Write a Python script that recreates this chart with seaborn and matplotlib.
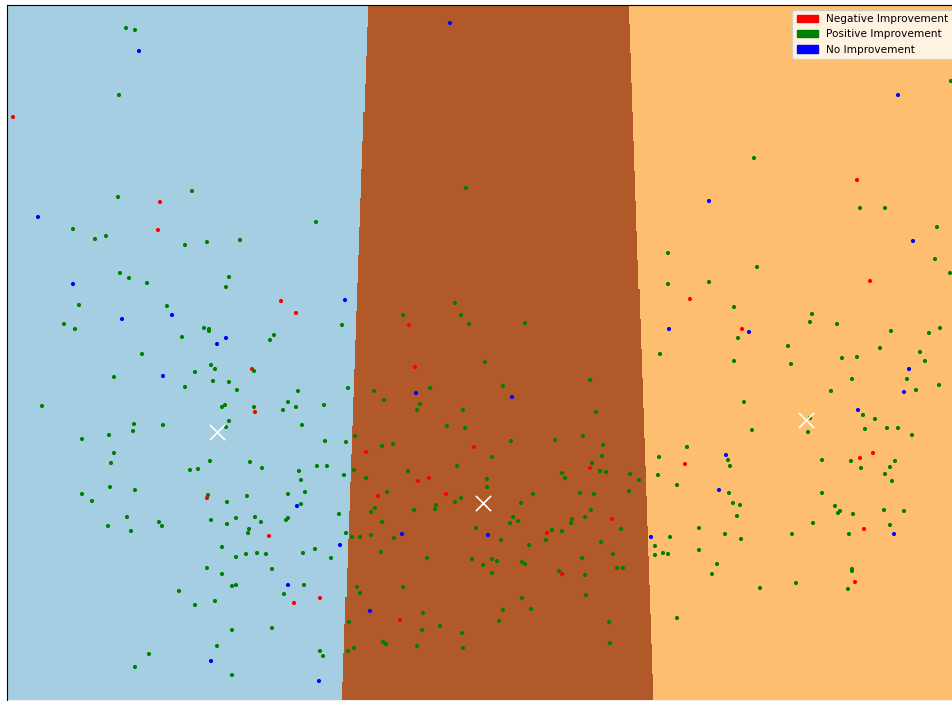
import numpy as np
import pandas as pd
import matplotlib
matplotlib.use("Agg")
import matplotlib.pyplot as plt
import matplotlib.patches as mpatches
import seaborn as sns

# students, one point each, grouped by change in score
neg_x = [0.13, 1.60, 1.58, 8.57, 2.81, 2.96, 4.09, 2.52, 4.15, 2.55, 3.66, 4.74, 5.90, 6.90, 6.85,
         8.70, 7.42, 8.73, 8.60, 2.07, 4.18, 4.29, 4.46, 3.78, 2.69, 3.20, 2.94, 4.00, 6.12, 5.47,
         5.62, 8.64, 8.55]
neg_y = [5.83, 4.98, 4.70, 5.20, 3.99, 3.87, 3.75, 3.31, 3.33, 2.88, 2.48, 2.53, 2.32, 4.01, 2.36,
         4.19, 3.71, 2.47, 2.42, 2.02, 2.19, 2.22, 2.06, 2.04, 1.64, 1.02, 0.97, 0.80, 1.81, 1.67,
         1.26, 1.71, 1.18]

none_x = [1.39, 0.38, 4.50, 7.09, 8.98, 0.73, 1.72, 1.22, 2.26, 2.17, 1.63, 3.45, 4.16, 6.69, 5.12,
          9.13, 7.49, 9.09, 9.04, 8.58, 7.26, 2.11, 2.97, 4.02, 3.40, 2.88, 3.70, 3.19, 4.88, 6.51,
          7.19, 8.94]
none_y = [6.49, 4.83, 6.77, 4.99, 6.05, 4.16, 3.85, 3.81, 3.62, 3.56, 3.24, 4.00, 3.07, 3.71, 3.03,
          4.59, 3.68, 3.31, 3.08, 2.90, 2.45, 0.39, 1.94, 1.66, 1.55, 1.15, 0.89, 0.19, 1.65, 1.63,
          2.10, 1.66]

pos_x = [1.26, 1.35, 1.19, 1.92, 1.18, 0.73, 4.66, 3.16, 9.51, 7.54, 8.60, 8.85, 9.37,
         0.95, 1.06, 1.85, 2.07, 1.20, 1.29, 1.47, 2.29, 2.26, 0.79, 1.67, 0.64, 0.75, 2.04, 2.09,
         2.09, 1.82, 1.42, 2.11, 2.15, 1.95, 1.14, 2.13, 2.29, 1.85, 2.37, 0.42, 2.25, 2.22, 2.29,
         2.26, 1.34, 1.63, 1.33, 1.09, 0.82, 1.14, 1.11, 2.10,
         2.40, 3.42, 2.74, 2.70, 4.55, 4.61, 4.69, 4.03, 2.54, 2.98, 3.48, 3.74, 4.30, 3.84, 2.88,
         3.24, 4.20, 4.17, 4.63, 2.54, 2.83, 2.96, 3.02, 4.47, 4.65, 3.55, 3.25, 3.46, 3.82, 3.93,
         2.50, 4.57, 3.17, 3.27,
         6.68, 6.68, 7.09, 6.60, 5.25, 4.85, 5.03, 5.90, 5.96, 5.11, 5.55, 5.83, 6.03, 6.02, 4.92,
         5.92, 6.87, 6.59,
         9.35, 9.50, 7.57, 7.34, 8.12, 8.10, 8.37, 7.38, 8.91, 9.29, 9.40, 7.88, 8.80, 9.20, 7.34,
         7.91, 8.42, 8.57, 9.25, 9.07, 8.52, 9.16, 9.39, 8.31, 7.44, 8.63, 8.75, 8.10, 8.65, 8.87,
         8.98, 9.12, 7.52, 8.08, 7.28, 7.30, 8.22, 8.51, 8.95, 8.90, 8.61,
         1.90, 1.98, 0.82, 1.10, 1.35, 0.92, 2.08, 2.27, 1.27, 1.08, 1.31, 1.59, 1.62, 2.11, 2.36,
         2.27, 2.22, 2.36, 2.07, 2.22, 2.32, 2.36, 1.79, 1.95, 2.15, 2.32, 2.17, 1.49, 1.35, 2.32,
         2.62, 2.99, 3.54, 3.44, 3.01, 4.08, 3.66, 3.87, 2.47, 2.88, 3.05, 3.01, 4.61, 4.55, 4.36,
         4.35, 4.14, 3.75, 3.71, 3.82, 3.39, 2.55, 2.61, 2.86, 2.88, 2.49, 2.48, 3.46, 3.52, 3.60,
         3.71, 3.94, 3.15, 2.46, 2.57, 2.66, 3.03, 3.31, 3.81, 4.27, 4.72, 2.72, 3.04, 2.84, 3.57,
         3.60, 4.03, 4.23, 3.49, 2.72, 4.22, 4.40, 4.62, 3.83, 3.86, 4.17, 4.63, 3.54, 3.48, 3.20,
         3.23,
         5.62, 5.65, 6.00, 6.06, 6.30, 6.39, 6.58, 6.77, 4.87, 4.87, 5.33, 5.80, 5.94, 6.29, 5.21,
         5.91, 5.13, 5.10, 5.18, 5.72, 5.71, 5.85, 4.76, 5.52, 5.62, 6.21, 5.01, 5.46, 5.29, 6.01,
         6.70, 6.99, 6.55, 6.55, 6.63, 6.68, 6.99, 6.13, 4.92, 4.97, 4.83, 5.22, 5.25, 5.82, 6.17,
         6.23, 4.92, 5.59, 5.85, 7.12, 5.86, 5.22, 5.03, 5.31, 4.99, 6.09, 6.77, 6.10,
         8.85, 8.92, 7.29, 8.22, 7.33, 7.40, 7.37, 8.35, 8.38, 8.40, 8.53, 8.84, 9.04, 8.13, 8.90,
         7.25, 7.41, 7.92, 8.49, 7.17, 8.52, 8.52, 8.48, 7.96, 7.60]
pos_y = [6.72, 6.70, 6.05, 5.09, 5.03, 4.71, 5.12, 4.78, 6.19, 5.42, 4.92, 4.92, 4.73,
         4.61, 4.64, 4.55, 4.58, 4.27, 4.22, 4.17, 4.23, 4.13, 3.95, 3.94, 3.76, 3.71, 3.72, 3.71,
         3.69, 3.63, 3.46, 3.35, 3.31, 3.28, 3.23, 3.19, 3.18, 3.13, 3.10, 2.94, 2.95, 2.93, 2.79,
         2.73, 2.76, 2.75, 2.69, 2.65, 2.61, 2.47, 2.37, 2.39,
         4.60, 3.75, 3.65, 3.60, 3.97, 3.85, 3.76, 3.85, 3.29, 3.09, 3.12, 3.09, 3.12, 3.00, 2.98,
         2.95, 2.96, 2.90, 2.90, 2.93, 2.90, 2.93, 2.75, 2.74, 2.72, 2.64, 2.59, 2.58, 2.54, 2.56,
         2.38, 2.34, 2.34, 2.34,
         4.47, 4.16, 4.18, 3.46, 3.77, 3.38, 3.14, 3.20, 2.88, 2.59, 2.60, 2.64, 2.55, 2.44, 2.43,
         2.37, 2.53, 2.43,
         4.41, 4.27, 4.33, 3.93, 3.86, 3.78, 3.76, 3.62, 3.69, 3.67, 3.72, 3.54, 3.52, 3.48, 3.39,
         3.36, 3.42, 3.43, 3.39, 3.21, 3.21, 3.10, 3.15, 3.09, 2.98, 2.85, 2.81, 2.82, 2.71, 2.72,
         2.72, 2.65, 2.70, 2.68, 2.40, 2.34, 2.40, 2.39, 2.39, 2.33, 2.32,
         2.30, 2.31, 2.06, 2.13, 2.10, 1.99, 2.05, 1.98, 1.83, 1.74, 1.69, 1.78, 1.74, 1.80, 1.82,
         1.76, 1.53, 1.43, 1.32, 1.26, 1.14, 1.15, 1.09, 0.95, 0.99, 0.70, 0.54, 0.46, 0.33, 0.25,
         2.32, 2.29, 2.30, 2.25, 2.20, 2.29, 2.22, 2.08, 2.04, 2.06, 2.08, 1.96, 2.02, 1.98, 1.95,
         1.91, 1.90, 1.92, 1.88, 1.78, 1.86, 1.83, 1.78, 1.80, 1.82, 1.71, 1.67, 1.67, 1.63, 1.63,
         1.65, 1.62, 1.51, 1.46, 1.47, 1.46, 1.47, 1.42, 1.48, 1.42, 1.41, 1.31, 1.15, 1.06, 1.13,
         1.07, 1.13, 0.87, 0.78, 0.72, 0.70, 0.74, 0.67, 0.58, 0.56, 0.54, 0.52, 0.52, 0.49, 0.49,
         0.44,
         2.27, 2.22, 2.29, 2.28, 2.26, 2.20, 2.25, 2.15, 2.21, 2.13, 2.06, 2.07, 2.06, 2.09, 1.97,
         1.90, 1.83, 1.77, 1.79, 1.81, 1.77, 1.83, 1.72, 1.70, 1.69, 1.71, 1.60, 1.60, 1.55, 1.58,
         1.63, 1.72, 1.54, 1.45, 1.47, 1.46, 1.50, 1.46, 1.41, 1.39, 1.35, 1.38, 1.36, 1.42, 1.32,
         1.32, 1.27, 1.29, 1.25, 1.26, 1.05, 1.02, 0.90, 0.91, 0.79, 0.78, 0.82, 0.57,
         2.26, 2.19, 2.07, 2.07, 1.97, 1.95, 1.84, 1.94, 1.87, 1.89, 1.86, 1.90, 1.89, 1.77, 1.75,
         1.66, 1.61, 1.66, 1.66, 1.36, 1.31, 1.29, 1.11, 1.17, 1.12]

# cluster centres, in label order 0, 1, 2
centre_x = [2.17, 8.06, 4.83]
centre_y = [2.68, 2.80, 1.97]
y_weight = 0.373  # feature scaling used by the clustering

improvement_labels = ["Negative Improvement", "Positive Improvement", "No Improvement"]
improvement_colors = ["red", "green", "blue"]

df = pd.DataFrame({
    "x": neg_x + pos_x + none_x,
    "y": neg_y + pos_y + none_y,
    "improvement": (["Negative Improvement"] * len(neg_x)
                    + ["Positive Improvement"] * len(pos_x)
                    + ["No Improvement"] * len(none_x)),
})

x_min, x_max = 0.065, 9.58
y_min, y_max = -0.005, 6.955

# predict cluster for every mesh point
xx, yy = np.meshgrid(np.linspace(x_min, x_max, 900), np.linspace(y_min, y_max, 700))
cx = np.array(centre_x)
cy = np.array(centre_y)
d = (xx[..., None] - cx) ** 2 + ((yy[..., None] - cy) * y_weight) ** 2
Z = d.argmin(axis=-1)

fig = plt.figure(figsize=(9.52, 7.01), dpi=100)
ax = fig.add_axes([6.5 / 952, 0.5 / 701, (958 - 6.5) / 952, (700.5 - 4.5) / 701])

ax.imshow(Z, interpolation="nearest", extent=(x_min, x_max, y_min, y_max),
          cmap=plt.cm.Paired, aspect="auto", origin="lower", vmin=0, vmax=2)

sns.scatterplot(data=df, x="x", y="y", hue="improvement",
                palette=dict(zip(improvement_labels, improvement_colors)),
                s=9, linewidth=0, legend=False, ax=ax)

ax.scatter(centre_x, centre_y, marker="x", s=120, linewidths=1.2, color="w", zorder=10)

ax.set_xlim(x_min, x_max)
ax.set_ylim(y_min, y_max)
ax.set_xticks([])
ax.set_yticks([])
ax.set_xlabel("")
ax.set_ylabel("")

handles = [mpatches.Patch(color=c, label=l) for l, c in zip(improvement_labels, improvement_colors)]
ax.legend(handles=handles, loc="upper right", fontsize=7.6)

fig.savefig("out.png", dpi=100)
